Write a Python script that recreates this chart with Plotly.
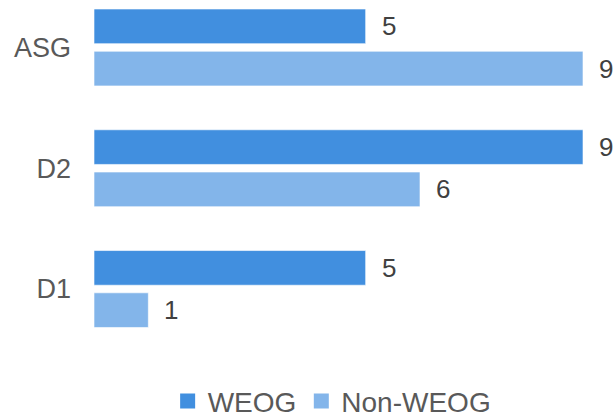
import plotly.graph_objects as go

categories = ["D1", "D2", "ASG"]
weog = [5, 9, 5]
non_weog = [1, 6, 9]

series = [("WEOG", weog, "#418FDF"), ("Non-WEOG", non_weog, "#83B5EA")]

pos = list(range(len(categories)))
slot = 0.175  # half slot offset in group mode (bargap .30 -> slot .35)

fig = go.Figure()
# bars: Non-WEOG first so that WEOG sits on top within each group
for name, vals, col in reversed(series):
    fig.add_trace(go.Bar(
        name=name, y=pos, x=vals, orientation="h", showlegend=False,
        marker=dict(color=col, line=dict(color="rgba(255,255,255,0.6)", width=1)),
    ))
# legend entries with larger square swatches
for name, vals, col in series:
    fig.add_trace(go.Scatter(
        name=name, x=[None], y=[None], mode="markers",
        marker=dict(symbol="square", size=15, color=col),
    ))

ann = []
for p, v in zip(pos, weog):
    ann.append(dict(x=v, y=p + slot, text=str(v), showarrow=False, xanchor="left",
                    xshift=14, font=dict(size=26, color="#404040")))
for p, v in zip(pos, non_weog):
    ann.append(dict(x=v, y=p - slot, text=str(v), showarrow=False, xanchor="left",
                    xshift=14, font=dict(size=26, color="#404040")))

fig.update_layout(
    width=614, height=418,
    margin=dict(l=94, r=31, t=0, b=68, autoexpand=False),
    paper_bgcolor="white", plot_bgcolor="white",
    barmode="group", bargap=0.30, bargroupgap=0.18,
    font=dict(family="Liberation Sans, Arial, sans-serif", color="#595959", size=26),
    xaxis=dict(range=[0, 9], visible=False, fixedrange=True),
    yaxis=dict(range=[-0.505, 2.393], tickvals=pos, ticktext=categories,
               showgrid=False, zeroline=False, showline=False, ticks="",
               ticklabelstandoff=22, tickfont=dict(size=27, color="#595959"),
               fixedrange=True),
    legend=dict(orientation="h", x=0.487, xanchor="center",
                yref="container", y=0.04, yanchor="middle",
                font=dict(size=28, color="#595959"),
                itemwidth=30, itemsizing="trace"),
    annotations=ann,
    showlegend=True,
)

fig.write_html("out.html", config={"displayModeBar": False},
               post_script="document.body.style.margin='0';")
